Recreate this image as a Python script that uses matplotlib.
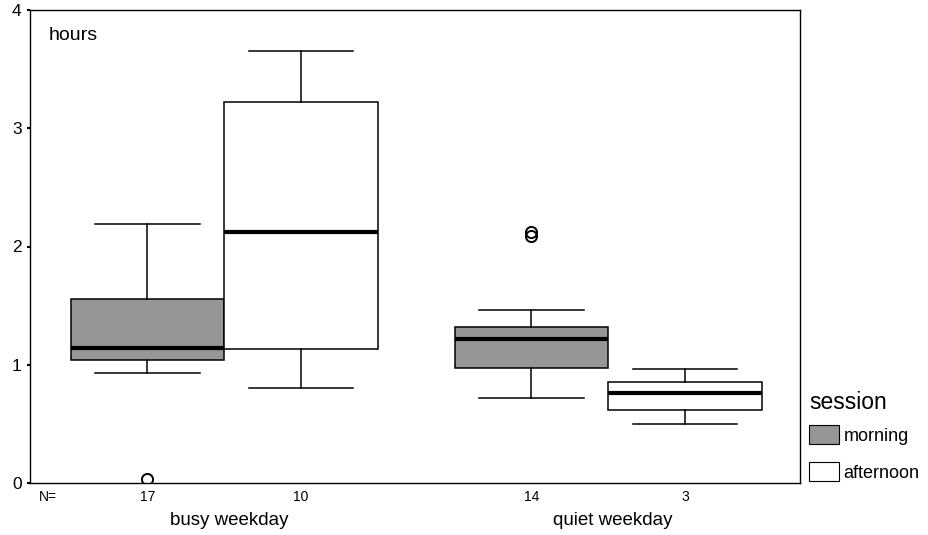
import matplotlib
matplotlib.use("Agg")
import matplotlib.pyplot as plt
from matplotlib.patches import Patch

plt.rcParams["font.family"] = ["Liberation Sans", "DejaVu Sans"]

# values (hours)
groups = ["busy weekday", "quiet weekday"]
sessions = ["morning", "afternoon"]
counts = [17, 10, 14, 3]
whisker_low = [0.93, 0.80, 0.72, 0.50]
q1 = [1.04, 1.13, 0.97, 0.62]
median = [1.14, 2.12, 1.22, 0.76]
q3 = [1.56, 3.22, 1.32, 0.85]
whisker_high = [2.19, 3.65, 1.46, 0.96]
outliers = [[0.03], [], [2.09, 2.12], []]

positions = [0, 1, 2.5, 3.5]
gray = "#969696"
box_colors = [gray, "white", gray, "white"]

stats = []
for i in range(len(counts)):
    stats.append({
        "whislo": whisker_low[i], "q1": q1[i], "med": median[i],
        "q3": q3[i], "whishi": whisker_high[i], "fliers": outliers[i],
    })

fig = plt.figure(figsize=(9.29, 5.35), dpi=100)
ax = fig.add_axes([30 / 929, 52 / 535, 770 / 929, 473 / 535])

bp = ax.bxp(
    stats, positions=positions, widths=1.0, patch_artist=True,
    capwidths=0.68,
    boxprops=dict(edgecolor="black", linewidth=1.1),
    medianprops=dict(color="black", linewidth=3.0),
    whiskerprops=dict(color="black", linewidth=1.1),
    capprops=dict(color="black", linewidth=1.1),
    flierprops=dict(marker="o", markerfacecolor="none", markeredgecolor="black",
                    markersize=8, markeredgewidth=1.4),
)
for patch, c in zip(bp["boxes"], box_colors):
    patch.set_facecolor(c)

ax.set_xlim(-0.765, 4.25)
ax.set_ylim(0, 4)
ax.set_yticks([0, 1, 2, 3, 4])
ax.set_yticklabels(["0", "1", "2", "3", "4"])
ax.tick_params(axis="y", direction="out", length=2, width=1.5, labelsize=12.5, pad=4)
ax.set_xticks([])
for s in ax.spines.values():
    s.set_linewidth(1.0)

ax.text(0.024, 0.965, "hours", transform=ax.transAxes, fontsize=14, va="top", ha="left")

# N= row and group labels below the axis
ax.text(0.012, -0.015, "N=", transform=ax.transAxes, fontsize=10, va="top", ha="left")
for p, n in zip(positions, counts):
    ax.text(p, -0.015, str(n), transform=ax.get_xaxis_transform(), fontsize=10,
            va="top", ha="center")
group_centers = [0.53, 3.03]
for g, x in zip(groups, group_centers):
    ax.text(x, -0.061, g, transform=ax.get_xaxis_transform(), fontsize=13.5,
            va="top", ha="center")

handles = [Patch(facecolor=gray, edgecolor="black", linewidth=0.8),
           Patch(facecolor="white", edgecolor="black", linewidth=0.8)]
leg = ax.legend(handles, sessions, title="session", loc="lower left",
                bbox_to_anchor=(1.0, -0.016), frameon=False, fontsize=13,
                title_fontsize=16.5, handlelength=1.67, handleheight=1.25,
                handletextpad=0.25, labelspacing=0.95, borderpad=0.2,
                borderaxespad=0.3)
leg._legend_box.align = "left"
leg._legend_box.sep = 8

fig.savefig("out.png", dpi=100)
